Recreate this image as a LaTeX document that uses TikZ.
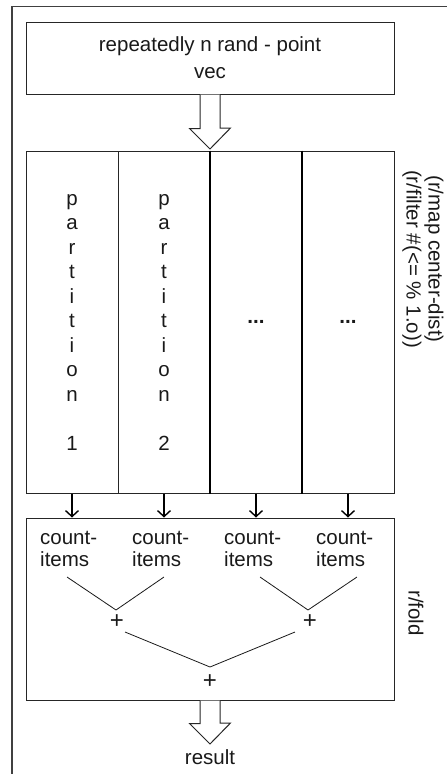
\documentclass[tikz,border=0pt]{standalone}
\usepackage{fontspec}
\setmainfont{Liberation Sans}
\usetikzlibrary{arrows.meta}
\begin{document}
\begin{tikzpicture}[x=1pt,y=-1pt,
  every node/.style={font=\fontsize{20.5}{24.5}\selectfont, inner sep=0pt, text=black!90},
  boxline/.style={draw=black!85, line width=1pt},
  colbox/.style={boxline, minimum width=92pt, minimum height=342pt, align=center},
  hollow/.style={draw=black!85, line width=1pt, fill=white, line join=miter},
  smallarr/.style={draw=black, line width=1.4pt, -{Straight Barb[length=6pt,width=13pt]}},
  thin/.style={draw=black!90, line width=0.8pt},
  frameline/.style={draw=black!75, line width=1.5pt},
  countlbl/.style={align=left, anchor=west, font=\fontsize{20.5}{22}\selectfont},
  plusnode/.style={font=\fontsize{24}{24}\selectfont}
]
\useasboundingbox (0,0) rectangle (447,774);
\draw[frameline] (447,6.5) -- (12,6.5) -- (12,774);

% top box
\node[boxline, minimum width=368pt, minimum height=72pt, align=center,
      font=\fontsize{20.5}{27}\selectfont] (src) at (210,58) {repeatedly n rand - point\\vec};

% partitions
\node[colbox] (p1) at (72,322) {p\\a\\r\\t\\i\\t\\i\\o\\n\\[24.5pt]1};
\node[colbox] (p2) at (164,322) {p\\a\\r\\t\\i\\t\\i\\o\\n\\[24.5pt]2};
\node[colbox] (p3) at (256,322) {\textbf{...}};
\node[colbox] (p4) at (348,322) {\textbf{...}};
\draw[draw=black, line width=2pt] (p3.north west) -- (p3.south west);
\draw[draw=black, line width=2pt] (p4.north west) -- (p4.south west);

% hollow arrow 1
\coordinate (t1) at (210,149);
\draw[hollow] ([xshift=-10pt]src.south) -- ++(0,34) -- ++(-10.5,0) -- (t1)
  -- ++(20.5,-21) -- ++(-10.5,0) -- ([xshift=10pt]src.south);

% fold box
\node[boxline, minimum width=368pt, minimum height=182pt] (fold) at (210,609) {};

\foreach \i in {1,2,3,4}{
  \draw[smallarr] (p\i.south) -- (p\i.south |- fold.north);
}

\node[countlbl] (c1) at (40,549) {count-\\items};
\node[countlbl] (c2) at (132,549) {count-\\items};
\node[countlbl] (c3) at (224,549) {count-\\items};
\node[countlbl] (c4) at (316,549) {count-\\items};

\coordinate (a1) at (67,577);
\coordinate (a2) at (164,577);
\coordinate (a3) at (260,577);
\coordinate (a4) at (357,577);
\coordinate (v1) at (116,610);
\coordinate (v2) at (308,610);
\node[plusnode] (s1) at (117,622) {+};
\node[plusnode] (s2) at (310,622) {+};
\draw[thin] (a1) -- (v1) -- (a2);
\draw[thin] (a3) -- (v2) -- (a4);

\coordinate (b1) at (125,632);
\coordinate (b2) at (295,632);
\coordinate (v3) at (210,667);
\node[plusnode] (s3) at (210,682) {+};
\draw[thin] (b1) -- (v3) -- (b2);

% hollow arrow 2
\coordinate (t2) at (210,744);
\draw[hollow] ([xshift=-10pt]fold.south) -- ++(0,23) -- ++(-10.5,0) -- (t2)
  -- ++(20.5,-21) -- ++(-10.5,0) -- ([xshift=10pt]fold.south);
\node (res) at (210,757) {result};

% side labels
\node[rotate=-90, align=center, font=\fontsize{20.5}{22}\selectfont] (lab1) at (423,259)
  {(r/map center-dist)\\(r/filter \#(<= \% 1.o))};
\node[rotate=-90] (lab2) at (416,613) {r/fold};
\end{tikzpicture}
\end{document}
